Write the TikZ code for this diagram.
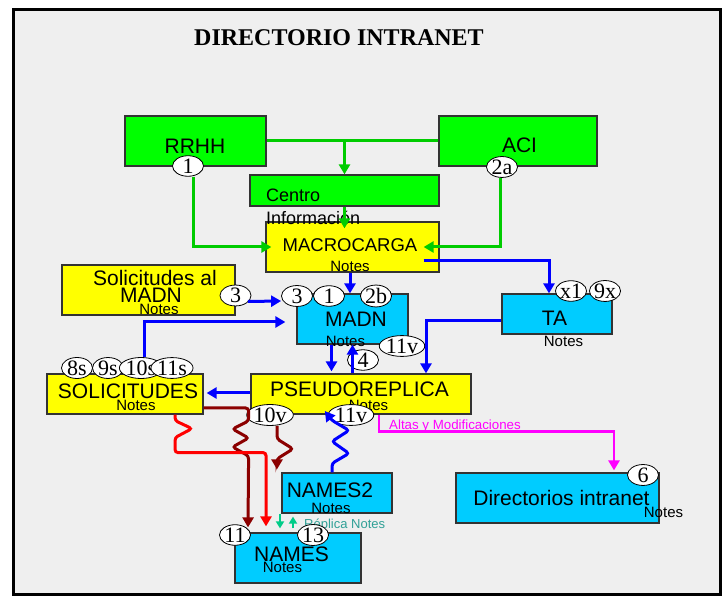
\documentclass[tikz,border=0pt]{standalone}
\usepackage{fontspec}
\setmainfont{Liberation Sans}
\newfontfamily\titlefont{Liberation Serif}
\usetikzlibrary{shapes.geometric, arrows.meta}

\definecolor{panel}{RGB}{239,239,239}
\definecolor{boxgreen}{RGB}{0,255,0}
\definecolor{boxyellow}{RGB}{255,255,0}
\definecolor{boxcyan}{RGB}{0,204,255}
\definecolor{linegreen}{RGB}{0,204,0}
\definecolor{lineblue}{RGB}{0,0,255}
\definecolor{linered}{RGB}{255,0,0}
\definecolor{linemaroon}{RGB}{139,0,0}
\definecolor{linemagenta}{RGB}{255,0,255}
\definecolor{replicagreen}{RGB}{0,204,136}
\definecolor{replicatext}{RGB}{48,160,150}

\newcommand{\setfs}[1]{\fontsize{#1}{#1}\selectfont}

\begin{document}
\begin{tikzpicture}[x=1pt, y=-1pt,
        % styles
        box/.style = {
                rectangle, draw=black!80, line width=1.2pt, inner sep=0pt
            },
        gbox/.style = {box, fill=boxgreen},
        ybox/.style = {box, fill=boxyellow},
        cbox/.style = {box, fill=boxcyan},
        tag/.style = {
                ellipse, draw=black, fill=white, line width=0.8pt,
                minimum width=31pt, minimum height=19pt, inner sep=0pt,
                font=\titlefont\setfs{22}
            },
        lbl/.style = {anchor=base, inner sep=0pt, font=\setfs{21}},
        notes/.style = {anchor=base, inner sep=0pt, font=\setfs{15}},
        arrow/.style = {line width=3pt, -{Triangle[length=10pt,width=11pt]}},
        garrow/.style = {arrow, draw=linegreen},
        barrow/.style = {arrow, draw=lineblue},
        rarrow/.style = {arrow, draw=linered},
        marrow/.style = {arrow, draw=linemaroon},
        parrow/.style = {arrow, line width=2.6pt, draw=linemagenta},
        tarrow/.style = {line width=2.8pt, draw=replicagreen,
                -{Triangle[length=7pt,width=8pt]}}]

    % frame
    \useasboundingbox (0,0) rectangle (724,596);
    \fill[white] (0,0) rectangle (724,596);
    \draw[line width=3pt, fill=panel] (13.5,10) rectangle (720.5,594);
    \node[anchor=base, inner sep=0pt, font=\titlefont\bfseries\setfs{24}] (title) at (339,46) {DIRECTORIO INTRANET};

    % boxes
    \node (rrhh) [gbox, minimum width=141pt, minimum height=50pt] at (195.5,141) {};
    \node (aci) [gbox, minimum width=158pt, minimum height=50pt] at (518,141) {};
    \node (centro) [gbox, minimum width=189pt, minimum height=31pt] at (344.5,190.5) {};
    \node (macro) [ybox, minimum width=173pt, minimum height=50pt] at (352.5,247) {};
    \node (solmadn) [ybox, minimum width=173pt, minimum height=50pt] at (148.5,290) {};
    \node (madn) [cbox, minimum width=111pt, minimum height=50pt] at (352.5,319) {};
    \node (ta) [cbox, minimum width=110pt, minimum height=40pt] at (557,314) {};
    \node (pseudo) [ybox, minimum width=220pt, minimum height=40pt] at (361,394) {};
    \node (solic) [ybox, minimum width=156pt, minimum height=40pt] at (125,394) {};
    \node (names2) [cbox, minimum width=110pt, minimum height=40pt] at (337,493) {};
    \node (names) [cbox, minimum width=126pt, minimum height=50pt] at (298,558) {};
    \node (dirint) [cbox, minimum width=203pt, minimum height=50pt] at (557.5,498) {};

    % texts
    \node (rrhh-t) [lbl] at (195,154) {RRHH};
    \node (aci-t) [lbl] at (519.5,153) {ACI};
    \node (centro-t) [lbl, anchor=base west, font=\setfs{18}] at (266,202) {Centro};
    \node (centro-t2) [lbl, anchor=base west, font=\setfs{18}] at (266,225) {Información};
    \node (macro-t) [lbl, font=\setfs{18.5}] at (350,252) {MACROCARGA};
    \node (macro-n) [notes] at (350,272) {Notes};
    \node (solmadn-t) [lbl] at (155,286) {Solicitudes al};
    \node (solmadn-t2) [lbl] at (151,303) {MADN};
    \node (solmadn-n) [notes] at (159,315) {Notes};
    \node (madn-t) [lbl] at (356,327) {MADN};
    \node (madn-n) [notes] at (345.5,347) {Notes};
    \node (ta-t) [lbl] at (554.5,326) {TA};
    \node (ta-n) [notes] at (563.5,347) {Notes};
    \node (pseudo-t) [lbl] at (359.5,397) {PSEUDOREPLICA};
    \node (pseudo-n) [notes] at (368.5,410) {Notes};
    \node (solic-t) [lbl] at (128,399) {SOLICITUDES};
    \node (solic-n) [notes] at (136,411) {Notes};
    \node (names2-t) [lbl] at (330,497) {NAMES2};
    \node (names2-n) [notes] at (331,513) {Notes};
    \node (names-t) [lbl] at (291.5,561) {NAMES};
    \node (names-n) [notes] at (282.5,572) {Notes};
    \node (dirint-t) [lbl] at (561.5,505) {Directorios intranet};
    \node (dirint-n) [notes] at (663.5,517) {Notes};
    \node (altas) [anchor=base west, inner sep=0pt, text=linemagenta, font=\setfs{13.3}] at (389,430) {Altas y Modificaciones};
    \node (replica) [anchor=base west, inner sep=0pt, text=replicatext, font=\setfs{13}] at (304,529) {Réplica Notes};

    % tags
    \node (t1) [tag] at (188,166) {1};
    \node (t2a) [tag] at (502,167) {2a};
    \node (t3a) [tag] at (235.5,295.5) {3};
    \node (t3b) [tag] at (297,296) {3};
    \node (t1b) [tag] at (329,296) {1};
    \node (t2b) [tag] at (376,296) {2b};
    \node (t11v) [tag] at (402,346) {11v};
    \node (t4) [tag] at (363,360) {4};
    \node (tx1) [tag] at (571,291) {x1};
    \node (t9x) [tag] at (605,291) {9x};
    \node (t8s) [tag] at (77,368) {8s};
    \node (t9s) [tag] at (108,368) {9s};
    \node (t10s) [tag] at (141,368) {10s};
    \node (t11s) [tag] at (172,368) {11s};
    \node (t10v) [tag] at (270,415) {10v};
    \node (t11v2) [tag] at (351,415) {11v};
    \node (t11) [tag] at (235,535) {11};
    \node (t13) [tag] at (313,535) {13};
    \node (t6) [tag] at (643,475) {6};

    % arrows
    \draw [garrow, -] (rrhh.east) -- (aci.west);
    \draw [garrow] (centro.north |- rrhh.east) -- (centro.north);
    \draw [garrow] (centro.south) -- ([yshift=-7pt]centro.south |- macro.north);
    \draw [garrow] ([xshift=5pt]t1.south) |- ([xshift=6pt]macro.west);
    \draw [garrow] ([xshift=-2pt]t2a.south) |- ([xshift=-16pt]macro.east);

    \draw [barrow] ([xshift=-16pt,yshift=-14pt]macro.east) -| ([xshift=-8pt]ta.north);
    \draw [barrow] ([xshift=-2.5pt]macro.south) -- ([xshift=-2.5pt]madn.north);
    \draw [barrow] ([xshift=-3.5pt,yshift=-6pt]t3a.east) -- ([yshift=-5pt]t3b.west);
    \draw [barrow] ([xshift=3pt]t10s.north) |- ([xshift=-11pt,yshift=-3pt]madn.west);
    \draw [barrow] ([xshift=-21pt]madn.south) -- ([xshift=-21pt,yshift=2pt]madn.south |- pseudo.north);
    \draw [barrow] (madn.south |- pseudo.north) -- (madn.south);
    \draw [barrow] ([yshift=-7pt]ta.west) -| ([xshift=65pt]pseudo.north);
    \draw [barrow] ([yshift=1pt]pseudo.west) -- ([xshift=3pt,yshift=1pt]solic.east);
    \draw [barrow, rounded corners=3pt] ([xshift=-5pt]names2.north) -- ++(0,-9)
        -- ++(17,-10) -- ++(-17,-12) -- ++(17,-11) -- ++(-17,-10)
        -- ([xshift=-3pt,yshift=4pt]t11v2.west);

    \draw [marrow, rounded corners=3pt] ([yshift=-14pt]solic.east) -| ++(45,13)
        -- ++(-16,8) -- ++(16,9) -- ++(-16,9) -- ++(16,9)
        -- ([xshift=-50pt,yshift=5pt]names.north);
    \draw [rarrow, rounded corners=3pt] ([xshift=50pt]solic.south) -- ++(0,6)
        -- ++(17,8) -- ++(-17,9) -- ++(0,15)
        -| ([xshift=-32pt,yshift=6pt]names.north);
    \coordinate (loose) at ([xshift=7pt,yshift=-43.5pt]t10v.south);
    \draw [marrow, rounded corners=3pt] ([xshift=7pt]t10v.south) -- ++(0,13)
        -- ++(16,10) -- ++(-16,10) -- (loose);

    \draw [parrow] ([xshift=18pt]pseudo.south) -- ++(0,17) -| ([xshift=56.5pt,yshift=2pt]dirint.north);

    \draw [tarrow] ([xshift=-57pt]names2.south) -- ([xshift=-18pt,yshift=4pt]names.north);
    \draw [tarrow] ([xshift=-5pt,yshift=4pt]names.north) -- ([xshift=-44pt,yshift=-3pt]names2.south);
\end{tikzpicture}
\end{document}
